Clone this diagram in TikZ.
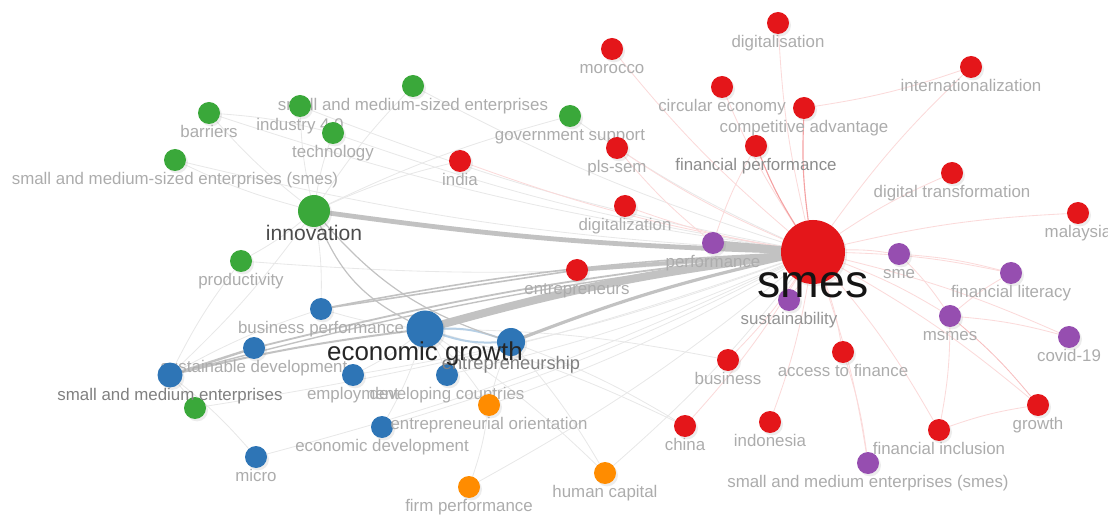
\documentclass[tikz,border=0pt]{standalone}
\usepackage{fontspec}
\setmainfont{Liberation Sans}
\usetikzlibrary{backgrounds, shadows}

\definecolor{vred}{RGB}{228,22,26}
\definecolor{vgreen}{RGB}{58,168,58}
\definecolor{vblue}{RGB}{46,117,182}
\definecolor{vpurple}{RGB}{150,78,176}
\definecolor{vorange}{RGB}{255,140,0}
\definecolor{lblgrey}{RGB}{172,172,172}

\begin{document}
\begin{tikzpicture}[
  x=0.25mm, y=-0.25mm,
  font=\fontsize{12}{14}\selectfont,
  kw/.style  ={circle, inner sep=0pt, minimum size=5.5mm,
               drop shadow={opacity=0.15, shadow xshift=0.5mm, shadow yshift=-0.6mm}},
  rd/.style  ={kw, fill=vred},
  gn/.style  ={kw, fill=vgreen},
  bl/.style  ={kw, fill=vblue},
  pu/.style  ={kw, fill=vpurple},
  og/.style  ={kw, fill=vorange},
  lb/.style  ={anchor=base, text=lblgrey, inner sep=0pt},
  label distance=3.25mm,
  hvy/.style ={draw=black!24, line cap=round},
  lnk/.style ={draw=black!9, line width=0.6pt, bend left=5},
  plnk/.style={draw=vred!16, line width=0.6pt, bend left=5},
]
\useasboundingbox (0,0) rectangle (1108,515);

% ---- green cluster ----
\node[gn, label={[lb]below:barriers}]                       (barriers)    at (209,113) {};
\node[gn, label={[lb]below:small and medium-sized enterprises}] (smsized) at (413,86) {};
\node[gn, label={[lb]below:industry 4.0}]                   (industry)    at (300,106) {};
\node[gn, label={[lb]below:technology}]                     (technology)  at (333,133) {};
\node[gn, label={[lb]below:small and medium-sized enterprises (smes)}] (smsmes) at (175,160) {};
\node[gn, minimum size=8mm, label distance=3.5mm,
      label={[lb, font=\fontsize{15}{18}\selectfont, text=black!70]below:innovation}] (innovation) at (314,211) {};
\node[gn, label={[lb]below:productivity}]                   (productivity) at (241,261) {};
\node[gn, label={[lb]below:government support}]             (govsupport)  at (570,116) {};
\node[gn]                                                   (gsme)        at (195,408) {};

% ---- red cluster ----
\node[rd, label={[lb]below:morocco}]                (morocco)        at (612,49) {};
\node[rd, label={[lb]below:digitalisation}]         (digitalisation) at (778,23) {};
\node[rd, label={[lb]below:internationalization}]   (internat)       at (971,67) {};
\node[rd, label={[lb]below:circular economy}]       (circular)       at (722,87) {};
\node[rd, label={[lb]below:competitive advantage}]  (compadv)        at (804,108) {};
\node[rd, label={[lb, text=black!45]below:financial performance}] (finperf) at (756,146) {};
\node[rd, label={[lb]below:pls-sem}]                (plssem)         at (617,148) {};
\node[rd, label={[lb]below:india}]                  (india)          at (460,161) {};
\node[rd, label={[lb]below:digitalization}]         (digitalization) at (625,206) {};
\node[rd, label={[lb]below:digital transformation}] (digtrans)       at (952,173) {};
\node[rd, label={[lb]below:malaysia}]               (malaysia)       at (1078,213) {};
\node[rd, label={[lb]below:entrepreneurs}]          (entrepreneurs)  at (577,270) {};
\node[rd, label={[lb]below:business}]               (business)       at (728,360) {};
\node[rd, label={[lb]below:access to finance}]      (access)         at (843,352) {};
\node[rd, label={[lb]below:china}]                  (china)          at (685,426) {};
\node[rd, label={[lb]below:indonesia}]              (indonesia)      at (770,422) {};
\node[rd, label={[lb]below:financial inclusion}]    (fininclusion)   at (939,430) {};
\node[rd, label={[lb]below:growth}]                 (growth)         at (1038,405) {};

% ---- purple cluster ----
\node[pu, label={[lb]below:performance}]            (performance) at (713,243) {};
\node[pu, label={[lb]below:sme}]                    (sme)         at (899,254) {};
\node[pu, label={[lb]below:financial literacy}]     (finlit)      at (1011,273) {};
\node[pu, label={[lb, text=black!42]below:sustainability}] (sustain) at (789,300) {};
\node[pu, label={[lb]below:msmes}]                  (msmes)       at (950,316) {};
\node[pu, label={[lb]below:covid-19}]               (covid)       at (1069,337) {};
\node[pu, label={[lb]below:small and medium enterprises (smes)}] (smesp) at (868,463) {};

% big hub, on top of sustainability
\node[rd, minimum size=16mm, label distance=7.25mm,
      label={[lb, font=\fontsize{33}{38}\selectfont, text=black!92]below:smes}] (smes) at (813,252) {};

% ---- blue cluster ----
\node[bl, label={[lb]below:business performance}]   (busperf)      at (321,309) {};
\node[bl, label={[lb]below:sustainable development}] (sustdev)     at (254,348) {};
\node[bl, minimum size=6.25mm,
      label={[lb, text=black!50]below:small and medium enterprises}] (smeblue) at (170,375) {};
\node[bl, label={[lb]below:employment}]             (employment)   at (353,375) {};
\node[bl, label={[lb]below:developing countries}]   (devcountries) at (447,375) {};
\node[bl, label={[lb]below:economic development}]   (econdev)      at (382,427) {};
\node[bl, label={[lb]below:micro}]                  (micro)        at (256,457) {};
\node[bl, minimum size=7mm, label distance=3.4mm,
      label={[lb, font=\fontsize{13}{15}\selectfont, text=black!50]below:entrepreneurship}] (entrship) at (511,342) {};
\node[bl, minimum size=9.25mm, label distance=4.5mm,
      label={[lb, font=\fontsize{18.4}{22}\selectfont, text=black!85]below:economic growth}] (econgrowth) at (425,329) {};

% ---- orange cluster ----
\node[og, label={[lb]below:entrepreneurial orientation}] (entorient) at (489,405) {};
\node[og, label={[lb]below:human capital}]          (humancap)     at (605,473) {};
\node[og, label={[lb]below:firm performance}]       (firmperf)     at (469,487) {};

\begin{scope}[on background layer]
% ---- faint links ----
\draw[lnk] (smes) edge (barriers) edge (industry) edge (technology) edge (smsized)
  edge (smsmes) edge (productivity) edge (govsupport) edge (employment)
  edge (devcountries) edge (econdev) edge (micro) edge (entorient)
  edge (humancap) edge (firmperf) edge (gsme);
\draw[lnk] (innovation) edge (barriers) edge (industry) edge (technology) edge (smsized)
  edge (smsmes) edge (productivity) edge (govsupport) edge (india) edge (busperf)
  edge (smeblue);
\draw[lnk] (econgrowth) edge (employment) edge (devcountries) edge (econdev)
  edge (entorient) edge (humancap) edge (busperf) edge (china) edge (business);
\draw[lnk] (smeblue) edge (micro) edge (gsme) edge (productivity) edge (busperf);
\draw[lnk] (entorient) edge (firmperf) edge (entrship);
\draw[lnk] (entrship) edge (humancap) edge (china);
\draw[lnk] (barriers) edge (technology);

% ---- red / purple links ----
\draw[plnk] (smes) edge (morocco) edge (digitalisation) edge (internat) edge (circular)
  edge (plssem) edge (india) edge (digitalization) edge (digtrans) edge (malaysia)
  edge (business) edge (access) edge (china) edge (indonesia) edge (fininclusion)
  edge (growth) edge (sme) edge (finlit) edge (sustain) edge (msmes) edge (covid)
  edge (smesp);
\draw[plnk, draw=vred!40, line width=0.8pt] (smes) edge (finperf) edge (compadv);
\draw[plnk] (msmes) edge (finlit) edge (covid) edge (fininclusion);
\draw[plnk, draw=vred!28] (msmes) edge (growth);
\draw[plnk] (sme) edge (msmes) edge (finlit);
\draw[plnk] (fininclusion) edge (growth);
\draw[plnk] (internat) edge (compadv);
\draw[plnk] (performance) edge (finperf) edge (plssem);
\draw[plnk] (access) edge (smesp);

% ---- strong links ----
\draw[hvy, line width=2mm]   (econgrowth) to[bend left=4] (smes);
\draw[hvy, line width=1.2mm] (innovation) to[bend right=3] (smes);
\draw[hvy, line width=1.5mm] (performance) -- (smes);
\draw[hvy, line width=1mm]   (entrepreneurs) -- (smes);
\draw[hvy, line width=0.8mm] (entrship) to[bend left=4] (smes);
\draw[hvy, line width=0.5mm, draw=vblue!35] (econgrowth) to[bend left=10] (entrship);
\draw[hvy, line width=0.5mm, draw=vblue!35] (econgrowth) to[bend right=10] (entrship);
\draw[hvy, line width=0.6mm] (smeblue) -- (sustdev);
\draw[hvy, line width=0.5mm] (smeblue) to[bend left=3] (econgrowth);
\draw[hvy, line width=0.45mm] (sustdev) to[bend left=4] (smes);
\draw[hvy, line width=0.4mm] (busperf) to[bend left=4] (smes);
\draw[hvy, line width=0.35mm] (smeblue) to[bend left=4] (smes);
\draw[hvy, line width=0.4mm] (busperf) -- (entrepreneurs);
\draw[hvy, line width=0.3mm] (innovation) to[bend right=20] (econgrowth);
\draw[hvy, line width=0.3mm] (innovation) to[bend right=15] (entrship);
\end{scope}

\end{tikzpicture}
\end{document}
